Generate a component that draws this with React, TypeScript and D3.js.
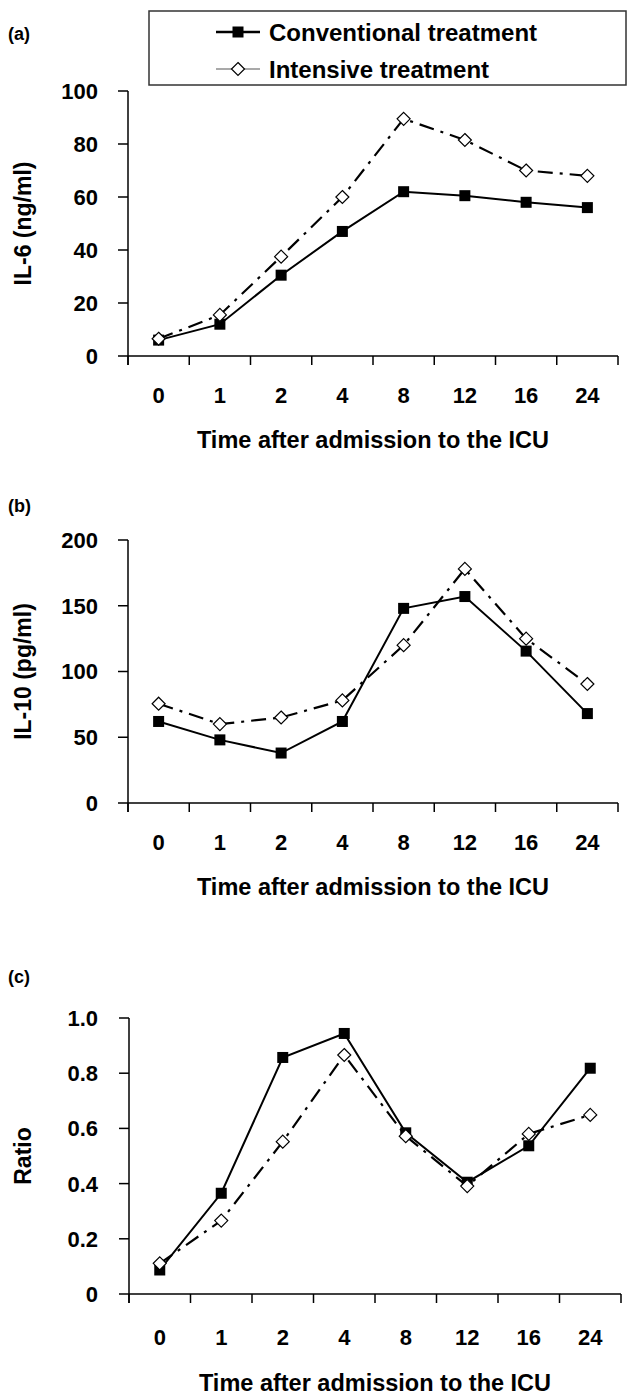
import React, { useEffect } from "react";
import * as d3 from "d3";

const times = ["0", "1", "2", "4", "8", "12", "16", "24"];

const il6Conventional = [6, 12, 30.5, 47, 62, 60.5, 58, 56];
const il6Intensive = [6.5, 15.5, 37.5, 60, 89.5, 81.5, 70, 68];

const il10Conventional = [62, 48, 38, 62, 148, 157, 115.5, 68];
const il10Intensive = [75.5, 60, 65, 78, 120, 178, 125, 90.5];

const ratioConventional = [0.087, 0.365, 0.857, 0.944, 0.584, 0.405, 0.537, 0.818];
const ratioIntensive = [0.111, 0.266, 0.552, 0.866, 0.572, 0.391, 0.58, 0.649];

const il6Ticks = [0, 20, 40, 60, 80, 100];
const il10Ticks = [0, 50, 100, 150, 200];
const ratioTicks = [0, 0.2, 0.4, 0.6, 0.8, 1.0];

const seriesNames = ["Conventional treatment", "Intensive treatment"];

const font = "'Liberation Sans', Arial, sans-serif";

const panels = [
  {
    tag: "(a)", tagY: 40, yTitle: "IL-6 (ng/ml)", top: 91, bottom: 356, max: 100,
    ticks: il6Ticks, fmt: (v: number) => String(v), x0: 128, x1: 618,
    conv: il6Conventional, int: il6Intensive, labelGap: 39, titleGap: 84,
  },
  {
    tag: "(b)", tagY: 512, yTitle: "IL-10 (pg/ml)", top: 540, bottom: 803, max: 200,
    ticks: il10Ticks, fmt: (v: number) => String(v), x0: 128, x1: 618,
    conv: il10Conventional, int: il10Intensive, labelGap: 39, titleGap: 84,
  },
  {
    tag: "(c)", tagY: 983, yTitle: "Ratio", top: 1018, bottom: 1294, max: 1,
    ticks: ratioTicks, fmt: (v: number) => (v === 0 ? "0" : d3.format(".1f")(v)), x0: 129, x1: 621,
    conv: ratioConventional, int: ratioIntensive, labelGap: 43, titleGap: 89,
  },
];

function Square({ x, y }: { x: number; y: number }) {
  return <rect x={x - 5.5} y={y - 5.5} width={11} height={11} fill="#000" />;
}

function Diamond({ x, y }: { x: number; y: number }) {
  return (
    <path
      d={`M${x},${y - 6.5}L${x + 6.5},${y}L${x},${y + 6.5}L${x - 6.5},${y}Z`}
      fill="#fff"
      stroke="#000"
      strokeWidth={1.2}
    />
  );
}

function Panel({ p }: { p: (typeof panels)[number] }) {
  const x = d3.scaleBand<string>().domain(times).range([p.x0, p.x1]);
  const y = d3.scaleLinear().domain([0, p.max]).range([p.bottom, p.top]);
  const cx = (t: string) => (x(t) as number) + x.bandwidth() / 2;
  const line = d3
    .line<number>()
    .x((_, i) => cx(times[i]))
    .y((d) => y(d));
  const bounds = d3.range(times.length + 1).map((i) => p.x0 + i * x.step());
  const midY = (p.top + p.bottom) / 2;
  return (
    <g fontFamily={font} fontWeight="bold" fill="#000">
      <text x={8} y={p.tagY} fontSize={18}>{p.tag}</text>
      <text
        transform={`translate(31,${midY}) rotate(-90)`}
        textAnchor="middle"
        fontSize={23}
      >
        {p.yTitle}
      </text>
      {/* y axis */}
      <line x1={p.x0} x2={p.x0} y1={p.top} y2={p.bottom + 9} stroke="#000" strokeWidth={1.5} />
      {p.ticks.map((t) => (
        <g key={t}>
          <line x1={p.x0 - 10} x2={p.x0} y1={y(t)} y2={y(t)} stroke="#000" strokeWidth={1.5} />
          <text x={98} y={y(t)} dy="0.36em" textAnchor="end" fontSize={22}>
            {p.fmt(t)}
          </text>
        </g>
      ))}
      {/* x axis */}
      <line x1={p.x0} x2={p.x1} y1={p.bottom} y2={p.bottom} stroke="#000" strokeWidth={1.5} />
      {bounds.map((b, i) => (
        <line key={i} x1={b} x2={b} y1={p.bottom} y2={p.bottom + 9} stroke="#000" strokeWidth={1.5} />
      ))}
      {times.map((t) => (
        <text key={t} x={cx(t)} y={p.bottom + p.labelGap} dy="0.36em" textAnchor="middle" fontSize={22}>
          {t}
        </text>
      ))}
      <text
        x={(p.x0 + p.x1) / 2}
        y={p.bottom + p.titleGap}
        dy="0.36em"
        textAnchor="middle"
        fontSize={23.5}
      >
        Time after admission to the ICU
      </text>
      {/* series */}
      <path d={line(p.int) || ""} fill="none" stroke="#000" strokeWidth={2.2} strokeDasharray="15,7,3,7" />
      <path d={line(p.conv) || ""} fill="none" stroke="#000" strokeWidth={2} />
      {p.conv.map((v, i) => (
        <Square key={"c" + i} x={cx(times[i])} y={y(v)} />
      ))}
      {p.int.map((v, i) => (
        <Diamond key={"i" + i} x={cx(times[i])} y={y(v)} />
      ))}
    </g>
  );
}

export default function App() {
  useEffect(() => {
    document.body.style.margin = "0";
  }, []);
  return (
    <svg width={627} height={1397} style={{ display: "block", background: "#fff" }}>
      <rect width={627} height={1397} fill="#fff" />
      {panels.map((p) => (
        <Panel key={p.tag} p={p} />
      ))}
      {/* legend */}
      <g fontFamily={font} fontWeight="bold">
        <rect x={149} y={11} width={477} height={74} fill="#fff" stroke="#333" strokeWidth={1.5} />
        <line x1={216} x2={260} y1={32} y2={32} stroke="#000" strokeWidth={2.5} />
        <Square x={238} y={32} />
        <text x={269} y={32} dy="0.36em" fontSize={24}>{seriesNames[0]}</text>
        <line x1={216} x2={260} y1={69} y2={69} stroke="#555" strokeWidth={1.2} />
        <Diamond x={238} y={69} />
        <text x={269} y={69} dy="0.36em" fontSize={24}>{seriesNames[1]}</text>
      </g>
    </svg>
  );
}
